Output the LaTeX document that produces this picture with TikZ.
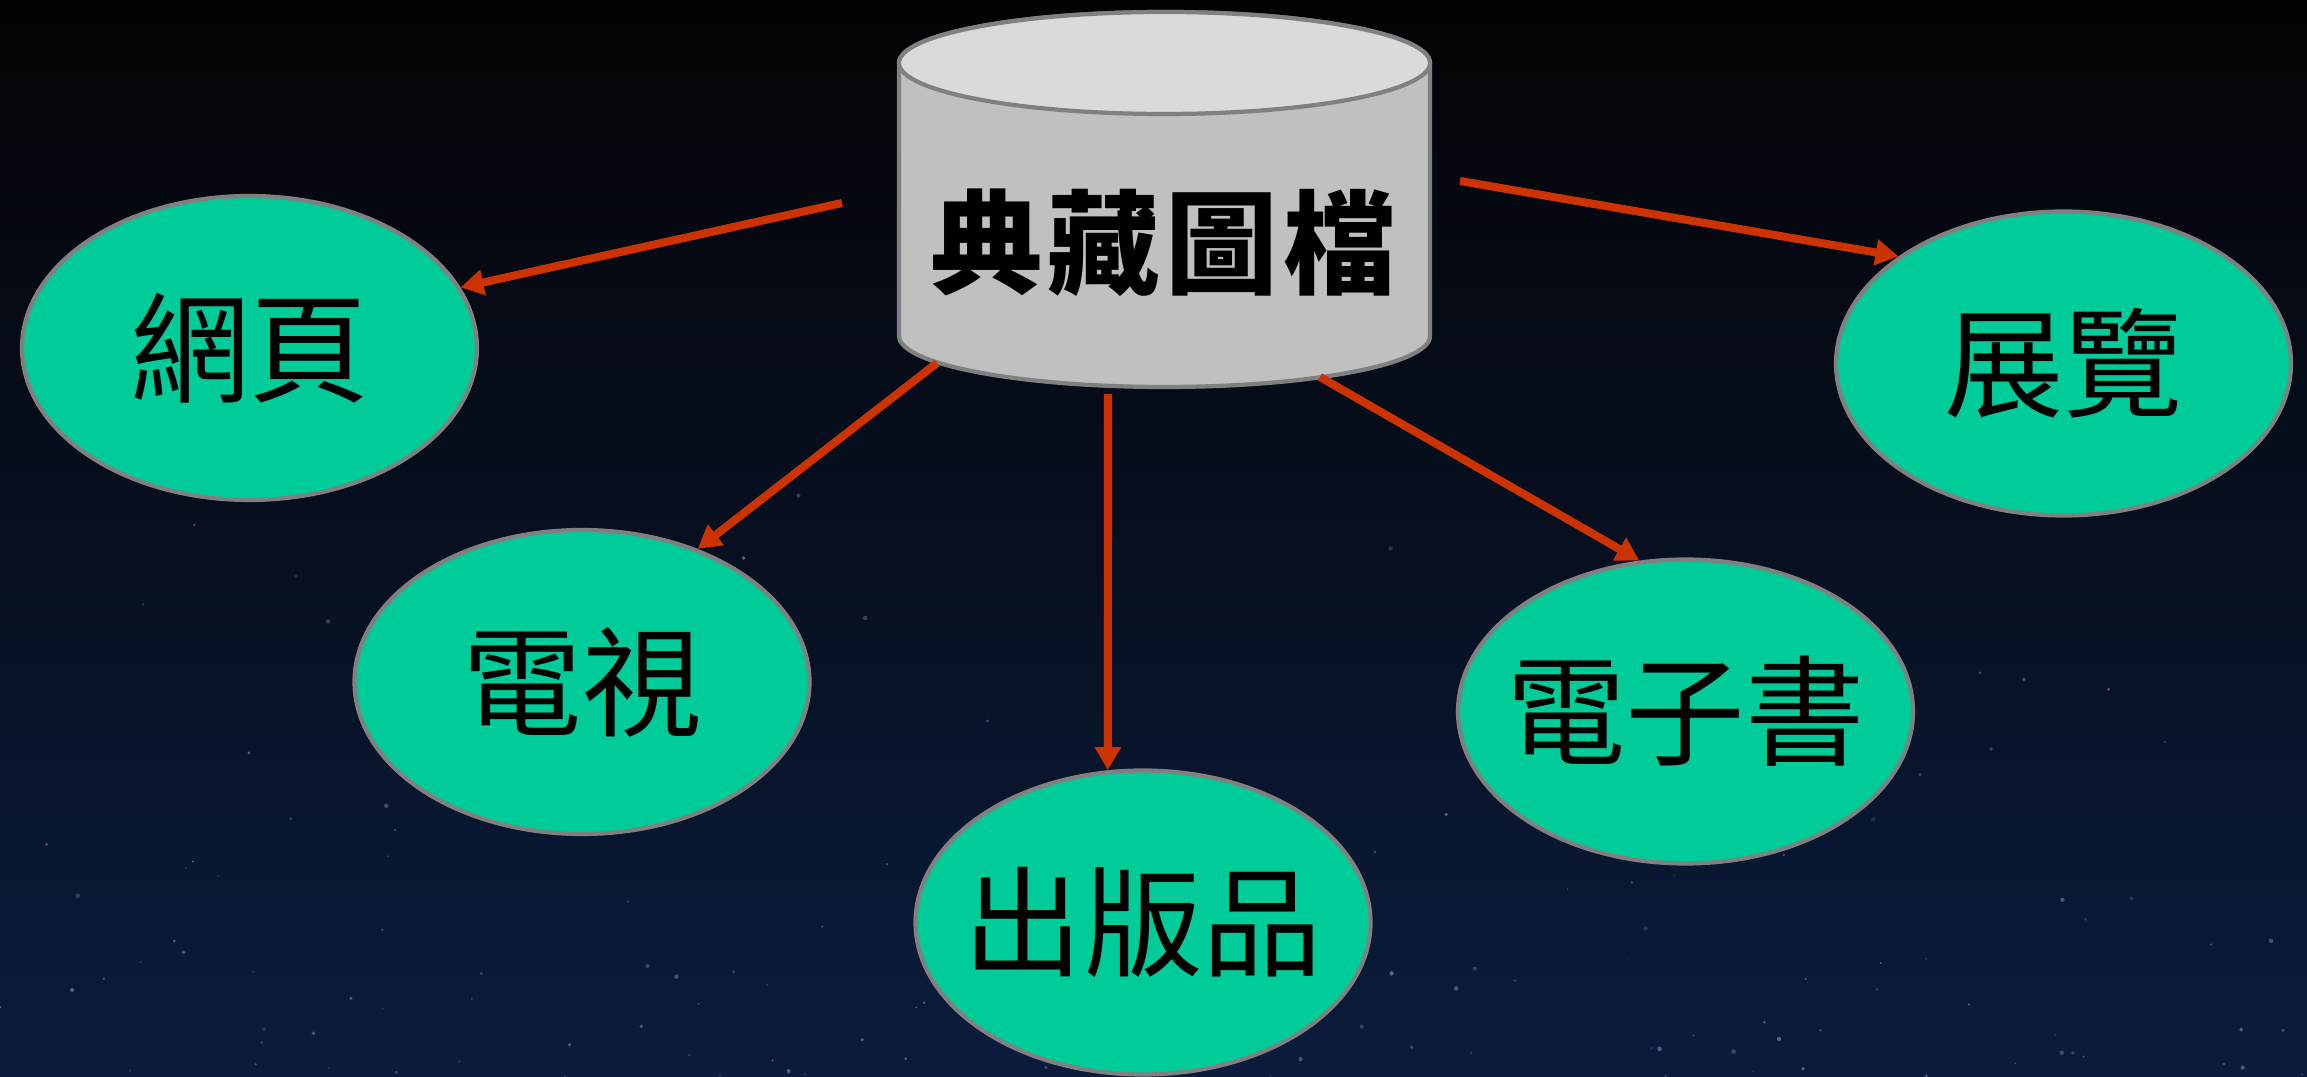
\documentclass[tikz,border=0pt]{standalone}
\usepackage{fontspec}
\newfontfamily\cjk{Noto Sans CJK TC}
\usetikzlibrary{shapes.geometric,arrows.meta,calc}
\definecolor{bgtop}{HTML}{030305}
\definecolor{bgmid}{HTML}{03060F}
\definecolor{bgbot}{HTML}{0B1C3C}
\definecolor{leaf}{HTML}{00CC99}
\definecolor{rim}{HTML}{808080}
\definecolor{arr}{HTML}{CC3300}
\definecolor{cylside}{HTML}{C0C0C0}
\definecolor{cyltop}{HTML}{DADADA}
\definecolor{starc}{HTML}{8A9CC4}
\tikzset{
  leafnode/.style={ellipse, fill=leaf, draw=rim, line width=1.2pt,
    minimum width=4.55cm, minimum height=3.04cm, inner xsep=-0.8cm, inner ysep=-0.3cm,
    font=\cjk\fontsize{34}{38}\selectfont},
  link/.style={draw=arr, line width=2.3pt, -{Triangle[length=0.23cm,width=0.25cm]}},
  cylline/.style={draw=rim, line width=1.2pt}
}
\begin{document}
\begin{tikzpicture}
\useasboundingbox (0,0) rectangle (23.07,10.77);
\shade[top color=bgtop, middle color=bgmid, bottom color=bgbot] (0,0) rectangle (23.07,10.77);
% faint stars
\pgfmathsetseed{7}
\foreach \i in {1,...,140}{
  \pgfmathsetmacro{\sx}{rnd*23.07}
  \pgfmathsetmacro{\sy}{rnd*rnd*6.5}
  \pgfmathsetmacro{\so}{0.15+0.45*rnd}
  \pgfmathsetmacro{\sr}{0.008+0.016*rnd}
  \fill[starc, opacity=\so] (\sx,\sy) circle (\sr);
}
% cylinder
\path[fill=cylside, cylline] (8.99,10.14) -- (8.99,7.41) arc (180:360:2.655 and 0.51) -- (14.30,10.14) arc (0:180:2.655 and 0.51) -- cycle;
\path[fill=cyltop, cylline] (11.645,10.14) ellipse (2.655 and 0.51);
\node[font=\cjk\bfseries\fontsize{32}{36}\selectfont, inner sep=0pt] (cyl) at (11.63,8.34) {典\hspace{1.5pt}藏\hspace{1.5pt}圖\hspace{1.5pt}檔};
% leaves
\node[leafnode] (web) at (2.495,7.29) {網頁};
\node[leafnode] (tv) at (5.82,3.95) {電視};
\node[leafnode] (pub) at (11.43,1.545) {出版品};
\node[leafnode] (ebook) at (16.855,3.655) {電子書};
\node[leafnode] (exh) at (20.635,7.135) {展覽};
% connector starts
\coordinate (s1) at (8.42,8.74);
\coordinate (s2) at (14.60,8.96);
\coordinate (s3) at (9.37,7.14);
\coordinate (s4) at (11.08,6.83);
\coordinate (s5) at (13.20,7.00);
\draw[link] (s1) -- (web.16);
\draw[link] (s2) -- (exh.147);
\draw[link] (s3) -- (tv.49);
\draw[link] (s4) -- (pub.103);
\draw[link] (s5) -- (ebook.107);
\end{tikzpicture}
\end{document}
